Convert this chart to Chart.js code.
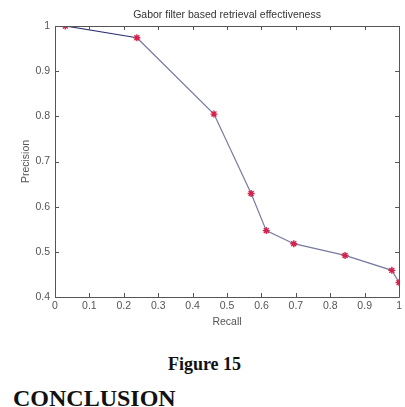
<!DOCTYPE html>
<html>
<head>
<meta charset="utf-8">
<script src="https://cdn.jsdelivr.net/npm/chart.js@4"></script>
<style>
  body { margin: 0; background: #fff; width: 405px; height: 407px; overflow: hidden; position: relative; }
  #wrap { position: absolute; left: 0; top: 0; width: 405px; height: 330px; }
  .cap { position: absolute; font-family: "Liberation Serif", "Times New Roman", serif; font-weight: bold; color: #111; white-space: nowrap; }
  #fig { left: 0; width: 409px; text-align: center; top: 354px; font-size: 18px; line-height: 20px; }
  #concl { left: 13px; top: 385px; font-size: 24px; line-height: 26.5px; }
</style>
</head>
<body>
<div id="wrap"><canvas id="prChart" width="405" height="330"></canvas></div>
<div class="cap" id="fig">Figure 15</div>
<div class="cap" id="concl">CONCLUSION</div>
<script>
// Precision / recall points
const recall    = [0.03, 0.238, 0.462, 0.570, 0.614, 0.694, 0.843, 0.979, 1.0];
const precision = [1.0, 0.974, 0.805, 0.629, 0.547, 0.518, 0.492, 0.459, 0.432];
const xTickLabels = ['0', '0.1', '0.2', '0.3', '0.4', '0.5', '0.6', '0.7', '0.8', '0.9', '1'];
const yTickLabels = ['0.4', '0.5', '0.6', '0.7', '0.8', '0.9', '1'];
const chartTitle = 'Gabor filter based retrieval effectiveness';

const font = { family: 'Liberation Sans, Arial, sans-serif', size: 10.5 };

// matlab style box with inward ticks + title centred on plot area
const matlabBox = {
  id: 'matlabBox',
  afterDraw(chart) {
    const { ctx, chartArea: a, scales } = chart;
    ctx.save();
    ctx.strokeStyle = '#555';
    ctx.lineWidth = 1;
    ctx.beginPath();
    ctx.rect(Math.round(a.left) + 0.5, Math.round(a.top) + 0.5,
             Math.round(a.right - a.left), Math.round(a.bottom - a.top));
    scales.x.ticks.forEach(t => {
      const px = Math.round(scales.x.getPixelForValue(t.value)) + 0.5;
      ctx.moveTo(px, a.bottom); ctx.lineTo(px, a.bottom - 4);
      ctx.moveTo(px, a.top); ctx.lineTo(px, a.top + 4);
    });
    scales.y.ticks.forEach(t => {
      const py = Math.round(scales.y.getPixelForValue(t.value)) + 0.5;
      ctx.moveTo(a.left, py); ctx.lineTo(a.left + 4, py);
      ctx.moveTo(a.right, py); ctx.lineTo(a.right - 4, py);
    });
    ctx.stroke();
    ctx.fillStyle = '#333';
    ctx.font = '10.5px Liberation Sans, Arial, sans-serif';
    ctx.textAlign = 'center';
    ctx.textBaseline = 'middle';
    ctx.fillText(chartTitle, (a.left + a.right) / 2, 15);
    ctx.restore();
  }
};

new Chart(document.getElementById('prChart').getContext('2d'), {
  type: 'scatter',
  data: {
    datasets: [{
      data: recall.map((r, i) => ({ x: r, y: precision[i] })),
      showLine: true,
      borderWidth: 1.2,
      borderColor: '#767a9e',
      segment: {
        borderColor: c => c.p0DataIndex === 0 ? '#2b2f72' : '#767a9e'
      },
      pointStyle: 'star',
      pointRadius: 3.5,
      pointBorderColor: '#d4204b',
      pointBackgroundColor: '#d4204b',
      pointBorderWidth: 1.4
    }]
  },
  options: {
    responsive: false,
    animation: false,
    layout: { padding: { left: 0, right: 5, top: 26, bottom: 0 } },
    plugins: { legend: { display: false }, tooltip: { enabled: false } },
    scales: {
      x: {
        type: 'linear', min: 0, max: 1,
        grid: { display: false, drawTicks: false }, border: { display: false },
        afterFit: s => { s.height = 33; },
        ticks: { stepSize: 0.1, padding: 3, color: '#555', font,
                 maxRotation: 0, autoSkip: false,
                 callback: (v, i) => xTickLabels[i] },
        title: { display: true, text: 'Recall', color: '#555', font, padding: { top: 0, bottom: 2 } }
      },
      y: {
        type: 'linear', min: 0.4, max: 1,
        grid: { display: false, drawTicks: false }, border: { display: false },
        afterFit: s => { s.width = 55; },
        ticks: { stepSize: 0.1, padding: 5, color: '#555', font,
                 autoSkip: false,
                 callback: (v, i) => yTickLabels[i] },
        title: { display: true, text: 'Precision', color: '#555', font, padding: { top: 20, bottom: 0 } }
      }
    }
  },
  plugins: [matlabBox]
});
</script>
</body>
</html>
